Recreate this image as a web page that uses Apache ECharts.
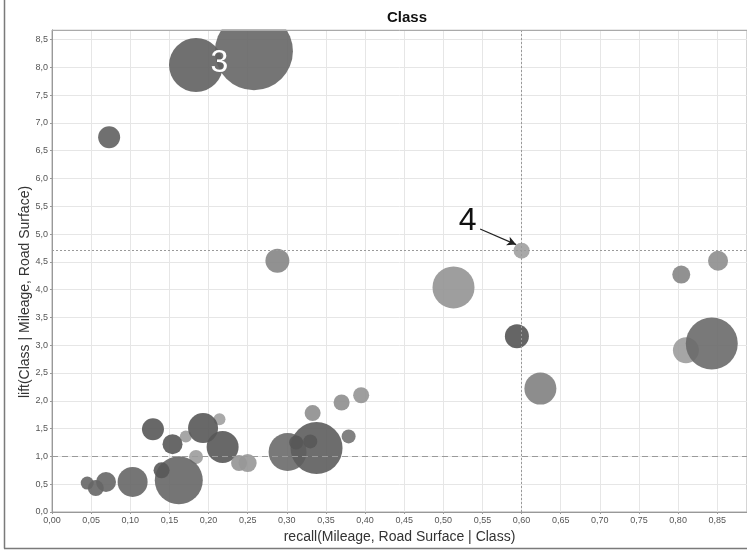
<!DOCTYPE html>
<html><head><meta charset="utf-8">
<script src="https://cdn.jsdelivr.net/npm/echarts@6/dist/echarts.min.js"></script>
<style>html,body{margin:0;padding:0;background:#fff}#c{width:747px;height:551px}</style>
</head><body><div id="c"></div>
<script>
// ---- data ----
const chartTitle = 'Class';
const xName = 'recall(Mileage, Road Surface | Class)';
const yName = 'lift(Class | Mileage, Road Surface)';
// recall (x), lift (y), bubble support (size), confidence (shade)
const recall     = [0.258, 0.184, 0.073, 0.288, 0.600, 0.513, 0.594, 0.624, 0.804, 0.851, 0.810, 0.843,
                    0.171, 0.214, 0.184, 0.129, 0.154, 0.162, 0.140, 0.103, 0.069, 0.056, 0.045,
                    0.193, 0.218, 0.239, 0.250, 0.333, 0.370, 0.395, 0.379, 0.301, 0.338, 0.312, 0.330];
const lift       = [8.29, 8.04, 6.74, 4.52, 4.70, 4.04, 3.16, 2.22, 4.27, 4.52, 2.91, 3.03,
                    1.36, 1.67, 0.99, 1.49, 1.22, 0.57, 0.75, 0.54, 0.54, 0.43, 0.52,
                    1.51, 1.17, 0.88, 0.88, 1.78, 1.97, 2.10, 1.36, 1.08, 1.15, 1.25, 1.27];
const support    = [78, 54, 22, 24, 16, 42, 24, 32, 18, 20, 26, 52,
                    12, 12, 14, 22, 20, 48, 16, 30, 20, 16, 13,
                    30, 32, 16, 18, 16, 16, 16, 14, 38, 52, 14, 14];
const confidence = [0.75, 0.8, 0.8, 0.4, 0.1, 0.25, 0.95, 0.45, 0.4, 0.3, 0.15, 0.7,
                    0.15, 0.1, 0.15, 0.9, 0.9, 0.75, 0.9, 0.75, 0.75, 0.75, 0.75,
                    0.9, 0.9, 0.25, 0.2, 0.3, 0.3, 0.25, 0.6, 0.7, 0.85, 0.9, 0.9];
const liftBaseline = 1.0;
const markedRecall = 0.60;
const markedLift = 4.70;
const annotations = [
  { text: '3', coord: [0.214, 8.07], color: '#ffffff' },
  { text: '4', coord: [0.531, 5.24], color: '#111111' }
];
const arrowFrom = [0.547, 5.09];
const arrowTo   = [0.593, 4.81];
const xMin = 0, xMax = 0.888, xStep = 0.05;
const yMin = 0, yMax = 8.67, yStep = 0.5;

const points = recall.map((r, i) => [r, lift[i], support[i], confidence[i]]);
const FONT = '"Liberation Sans", Arial, sans-serif';

const chart = echarts.init(document.getElementById('c'), null, { renderer: 'canvas' });
chart.setOption({
  animation: false,
  backgroundColor: '#ffffff',
  grid: { left: 52, right: 0, top: 30, bottom: 39, show: true, borderColor: '#aaaaaa', borderWidth: 1, backgroundColor: '#ffffff' },
  xAxis: {
    type: 'value', min: xMin, max: xMax, interval: xStep,
    axisLine: { show: true, lineStyle: { color: '#999999', width: 1 } },
    axisTick: { show: true, length: 2, lineStyle: { color: '#999999' } },
    axisLabel: { color: '#555555', fontSize: 9, fontFamily: FONT, margin: 4, showMaxLabel: false,
                 formatter: v => v.toFixed(2).replace('.', ',') },
    splitLine: { show: true, lineStyle: { color: '#e6e6e6', width: 1 } },
    name: xName, nameLocation: 'middle', nameGap: 17,
    nameTextStyle: { color: '#333333', fontSize: 14, fontFamily: FONT }
  },
  yAxis: {
    type: 'value', min: yMin, max: yMax, interval: yStep,
    axisLine: { show: true, lineStyle: { color: '#999999', width: 1 } },
    axisTick: { show: true, length: 2, lineStyle: { color: '#999999' } },
    axisLabel: { color: '#555555', fontSize: 9, fontFamily: FONT, margin: 4, showMaxLabel: false,
                 formatter: v => v.toFixed(1).replace('.', ',') },
    splitLine: { show: true, lineStyle: { color: '#e6e6e6', width: 1 } }
  },
  visualMap: {
    show: false, type: 'continuous', dimension: 3, min: 0, max: 1, seriesIndex: 1,
    inRange: { color: ['#a9a9a9', '#4f4f4f'] }
  },
  series: [
    {
      type: 'scatter', z: 1, data: [], silent: true,
      markLine: {
        silent: true, symbol: 'none', animation: false, label: { show: false },
        data: [
          { yAxis: liftBaseline, lineStyle: { color: '#9a9a9a', type: [6, 4], width: 1.2 } },
          { yAxis: markedLift, lineStyle: { color: '#999999', type: [2, 2], width: 1 } },
          { xAxis: markedRecall, lineStyle: { color: '#999999', type: [2, 2], width: 1 } }
        ]
      }
    },
    {
      type: 'scatter', z: 2,
      data: points,
      symbol: 'circle',
      symbolSize: v => v[2],
      itemStyle: { opacity: 0.9 }
    },
    {
      type: 'scatter', z: 5, data: [], silent: true,
      markPoint: {
        silent: true, symbol: 'circle', symbolSize: 0, animation: false,
        data: annotations.map(a => ({
          coord: a.coord,
          label: { show: true, position: 'inside', formatter: a.text, color: a.color, fontSize: 32, fontFamily: FONT }
        }))
      },
      markLine: {
        silent: true, animation: false, symbol: ['none', 'arrow'], symbolSize: [7, 9],
        label: { show: false },
        lineStyle: { color: '#222222', type: 'solid', width: 1.2 },
        data: [[{ coord: arrowFrom }, { coord: arrowTo }]]
      }
    }
  ],
  graphic: [
    { type: 'rect', z: 10, silent: true, shape: { x: 53, y: 0, width: 694, height: 29.5 }, style: { fill: '#ffffff' } },
    { type: 'line', z: 11, silent: true, shape: { x1: 52, y1: 30.5, x2: 747, y2: 30.5 }, style: { stroke: '#aaaaaa', lineWidth: 1 } },
    { type: 'text', z: 12, silent: true, x: 407, y: 17.5,
      style: { text: chartTitle, font: 'bold 15px ' + FONT, fill: '#111111', align: 'center', verticalAlign: 'middle', textAlign: 'center', textVerticalAlign: 'middle' } },
    { type: 'text', z: 12, silent: true, x: 25, y: 292, rotation: Math.PI / 2,
      style: { text: yName, font: '14px ' + FONT, fill: '#333333', align: 'center', verticalAlign: 'middle', textAlign: 'center', textVerticalAlign: 'middle' } },
    { type: 'line', z: 12, silent: true, shape: { x1: 4.5, y1: 0, x2: 4.5, y2: 548.5 }, style: { stroke: '#7a7a7a', lineWidth: 1.5 } },
    { type: 'line', z: 12, silent: true, shape: { x1: 4, y1: 548.5, x2: 747, y2: 548.5 }, style: { stroke: '#7a7a7a', lineWidth: 1.5 } }
  ]
});
</script>
</body></html>
